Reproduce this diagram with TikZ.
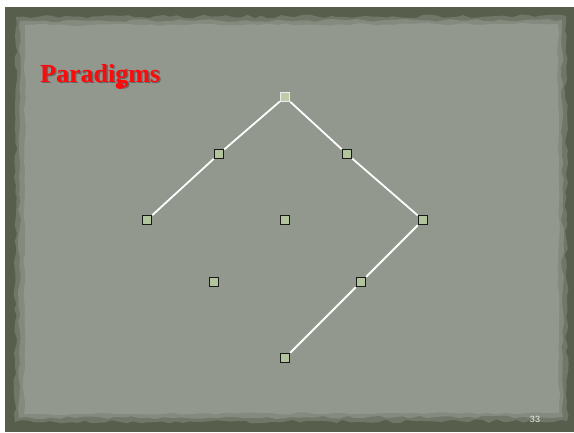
\documentclass[tikz,border=0pt]{standalone}
\usepackage{fontspec}
\setmainfont{Liberation Serif}
\newfontfamily\slidesans{Liberation Sans}
\usetikzlibrary{decorations.pathmorphing}
\definecolor{frame}{RGB}{88,94,76}
\definecolor{paper}{RGB}{147,152,142}
\definecolor{paperedge}{RGB}{112,118,104}
\definecolor{paperedgein}{RGB}{132,138,126}
\definecolor{nodefill}{RGB}{178,196,158}
\definecolor{topfill}{RGB}{190,204,170}
\definecolor{titlered}{RGB}{255,10,10}
\tikzset{
  pt/.style={draw=black!90, line width=1pt, fill=nodefill, minimum size=9.5pt, inner sep=0pt, rectangle},
  toppt/.style={pt, draw=white!85!gray, fill=topfill},
  link/.style={white, line width=1.8pt}
}
\begin{document}
\begin{tikzpicture}[x=1pt,y=-1pt]
\useasboundingbox (0,0) rectangle (574,432);
\fill[white] (0,0) rectangle (574,432);
\fill[frame] (5,7) rectangle (574,432);
\pgfmathsetseed{7}
\fill[paperedge, decorate, decoration={random steps, segment length=7pt, amplitude=1.8pt}]
  (16,17) -- (566,16) -- (567,421) -- (15,422) -- cycle;
\fill[paperedgein, decorate, decoration={random steps, segment length=8pt, amplitude=1.5pt}]
  (20,21) -- (562,20) -- (563,417) -- (19,418) -- cycle;
\fill[paper, decorate, decoration={random steps, segment length=9pt, amplitude=1.2pt}]
  (25,25) -- (558,24) -- (559,413) -- (24,414) -- cycle;
% title
\node[anchor=base west, inner sep=0pt, text=black!60, font=\bfseries\fontsize{26}{30}\selectfont] at (41.5,83.5) {Paradigms};
\node[anchor=base west, inner sep=0pt, text=titlered, font=\bfseries\fontsize{26}{30}\selectfont] (title) at (40,82) {Paradigms};
\fill[titlered] (120,86) ellipse (4.5pt and 3pt);
% nodes
\node[toppt] (a) at (285,97) {};
\node[pt] (b) at (219,154) {};
\node[pt] (c) at (347,154) {};
\node[pt] (d) at (147,220) {};
\node[pt] (e) at (285,220) {};
\node[pt] (f) at (423,220) {};
\node[pt] (g) at (214,282) {};
\node[pt] (h) at (361,282) {};
\node[pt] (i) at (285,358) {};
% links
\draw[link] (a) -- (b);
\draw[link] (b) -- (d);
\draw[link] (a) -- (c);
\draw[link] (c) -- (f);
\draw[link] (f) -- (h);
\draw[link] (h) -- (i);
\node[font=\slidesans\fontsize{9}{10}\selectfont, text=white!90!gray] (num) at (535,419) {33};
\end{tikzpicture}
\end{document}
